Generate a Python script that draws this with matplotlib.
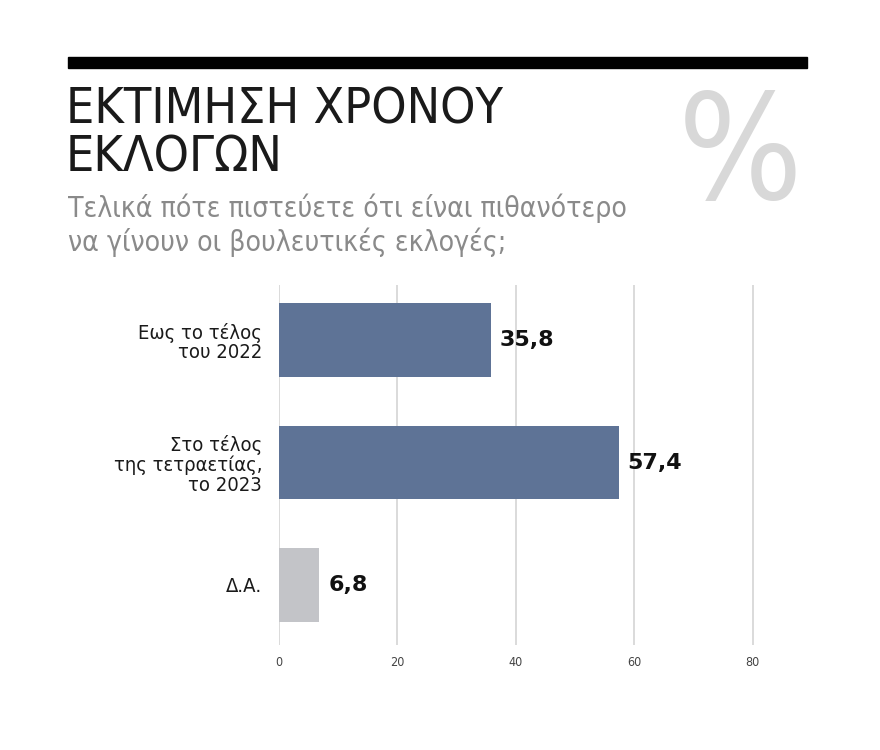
import matplotlib
matplotlib.use("Agg")
import matplotlib.pyplot as plt

# Δεδομένα
categories = ["Εως το τέλος\nτου 2022", "Στο τέλος\nτης τετραετίας,\nτο 2023", "Δ.Α."]
values = [35.8, 57.4, 6.8]
value_labels = ["35,8", "57,4", "6,8"]
bar_colors = ["#5e7396", "#5e7396", "#c3c4c8"]
ticks = [0, 20, 40, 60, 80]

plt.rcParams["font.family"] = ["DejaVu Sans"]
plt.rcParams["font.stretch"] = "condensed"

fig = plt.figure(figsize=(8.8, 7.5), dpi=100)

# Μαύρη γραμμή επάνω
fig.add_artist(plt.Rectangle((68 / 880, 1 - 68 / 750), (807 - 68) / 880, 11 / 750,
                             color="black", transform=fig.transFigure))

fig.text(66 / 880, 1 - 85 / 750, "ΕΚΤΙΜΗΣΗ ΧΡΟΝΟΥ\nΕΚΛΟΓΩΝ", fontsize=36,
         va="top", ha="left", color="#1a1a1a", linespacing=1.02, stretch="condensed")
fig.text(68 / 880, 1 - 193 / 750,
         "Τελικά πότε πιστεύετε ότι είναι πιθανότερο\nνα γίνουν οι βουλευτικές εκλογές;",
         fontsize=20.3, va="top", ha="left", color="#8a8a8a", linespacing=1.22,
         stretch="condensed")
fig.text(740 / 880, 1 - 199 / 750, "%", fontsize=105, ha="center", va="baseline",
         color="#d8d8d8")

ax = fig.add_axes([279 / 880, 1 - 645 / 750, (800 - 279) / 880, (645 - 285) / 750])
pos = list(range(len(values)))
ax.barh(pos, values, height=0.6, color=bar_colors, zorder=2)
ax.set_xlim(0, 88)
ax.set_ylim(2.49, -0.45)
ax.set_xticks(ticks)
ax.set_xticklabels([str(t) for t in ticks], fontsize=9, color="#444444")
ax.set_yticks(pos)
ax.set_yticklabels(categories, fontsize=14.5, color="#1a1a1a", linespacing=1.05)
ax.tick_params(axis="y", length=0, pad=12)
ax.tick_params(axis="x", length=0, pad=8)
ax.grid(axis="x", color="#d4d4d4", linewidth=1.2, zorder=0)
for s in ax.spines.values():
    s.set_visible(False)

for p, v, lab in zip(pos, values, value_labels):
    ax.text(v + 1.5, p, lab, va="center", ha="left", fontsize=16,
            fontweight="bold", color="#111111", stretch="normal")

fig.savefig("out.png", dpi=100)
